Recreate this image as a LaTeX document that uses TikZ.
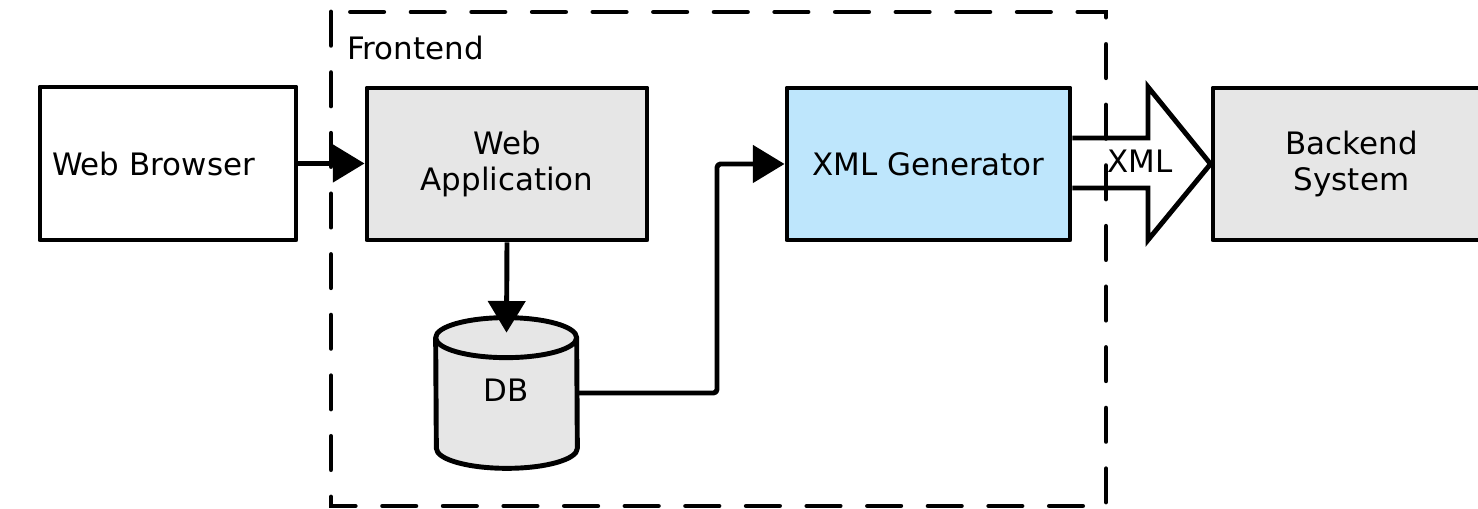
\documentclass[tikz,border=0pt]{standalone}
\usepackage{fontspec}
\setmainfont{DejaVu Sans}
\usetikzlibrary{arrows.meta,calc}
\definecolor{boxgray}{RGB}{230,230,230}
\definecolor{boxblue}{RGB}{190,230,252}
\tikzset{
  px/.style={x=0.02cm,y=0.02cm},
  blk/.style={draw=black, line width=2.8pt, line join=round, inner sep=0pt,
    font=\fontsize{17.6}{21}\selectfont, align=center},
  conn/.style={draw=black, line width=2.8pt, line join=round,
    -{Triangle[length=18pt,width=21pt]}},
  frame/.style={draw=black, line width=2.7pt, line cap=round,
    dash pattern=on 19pt off 15.5pt},
  lbl/.style={inner sep=0pt, font=\fontsize{17.6}{21}\selectfont}
}
\begin{document}
\begin{tikzpicture}[px]
\useasboundingbox (0,0) rectangle (1478,509);
\fill[white] (0,0) rectangle (1478,509);
% blocks
\node[blk, fill=white, minimum height=153*0.02cm, text width=232*0.02cm,
      inner xsep=12*0.02cm, align=left] (wb) at (168,345.5) {Web Browser};
\node[blk, fill=boxgray, minimum width=280*0.02cm, minimum height=152*0.02cm]
      (wa) at (507,345) {Web\\Application};
\node[blk, fill=boxblue, minimum width=283*0.02cm, minimum height=152*0.02cm]
      (xg) at (928.5,345) {XML Generator};
\node[blk, fill=boxgray, minimum width=277*0.02cm, minimum height=152*0.02cm]
      (be) at (1351.5,345) {Backend\\System};
% database cylinder
\node[lbl, minimum width=141*0.02cm, minimum height=150*0.02cm] (db) at (506.5,116) {};
\filldraw[fill=boxgray, draw=black, line width=2.8pt, line join=round]
  ($(db.north west)+(0,-20)$) arc[start angle=180, end angle=0, x radius=70.5, y radius=20]
  -- ($(db.south east)+(0,20)$) arc[start angle=0, end angle=-180, x radius=70.5, y radius=20]
  -- cycle;
\draw[line width=2.8pt]
  ($(db.north west)+(0,-20)$) arc[start angle=180, end angle=360, x radius=70.5, y radius=20];
\node[lbl] at (506.5,119) {DB};
% connectors
\draw[conn] (wb.east) -- (wb.east -| wa.west);
\draw[conn] (wa.south) -- ($(db.north)+(0,-15)$);
\draw[conn, rounded corners=2pt] (db.east) -| (717,345) -- (xg.west);
% block arrow XML
\fill[white] ($(xg.east)+(0,26)$) -- (1148,371) -- (1148,422) -- (be.west)
  -- (1148,269) -- (1148,321) -- ($(xg.east)+(0,-24)$) -- cycle;
\draw[line width=2.8pt, line join=miter] ($(xg.east)+(0,26)$) -- (1148,371) -- (1148,422) -- (be.west)
  -- (1148,269) -- (1148,321) -- ($(xg.east)+(0,-24)$);
% frontend frame
\draw[frame] (331,497) rectangle (1106,3);
\node[lbl, anchor=base west] (fe) at (347,449) {Frontend};
\node[lbl, anchor=base] (xl) at (1140,336) {XML};
\end{tikzpicture}
\end{document}
